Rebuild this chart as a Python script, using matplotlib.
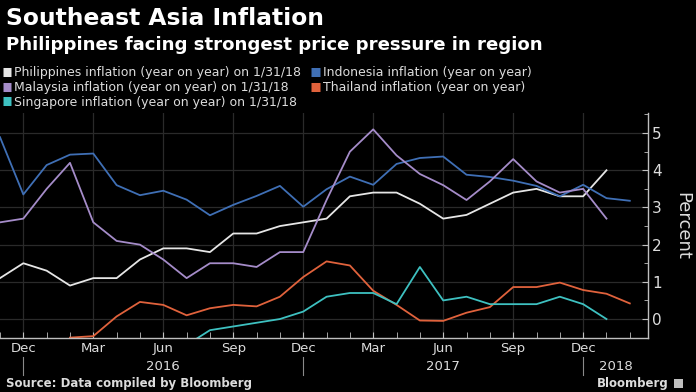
import matplotlib.pyplot as plt
import numpy as np

nan = np.nan

# monthly points, Nov 2015 .. Feb 2018
months = ['Nov', 'Dec', 'Jan', 'Feb', 'Mar', 'Apr', 'May', 'Jun', 'Jul', 'Aug', 'Sep', 'Oct',
          'Nov', 'Dec', 'Jan', 'Feb', 'Mar', 'Apr', 'May', 'Jun', 'Jul', 'Aug', 'Sep', 'Oct',
          'Nov', 'Dec', 'Jan', 'Feb']

philippines = [1.1, 1.5, 1.3, 0.9, 1.1, 1.1, 1.6, 1.9, 1.9, 1.8, 2.3, 2.3,
               2.5, 2.6, 2.7, 3.3, 3.4, 3.4, 3.1, 2.7, 2.8, 3.1, 3.4, 3.5,
               3.3, 3.3, 4.0, nan]
indonesia = [4.89, 3.35, 4.14, 4.42, 4.45, 3.60, 3.33, 3.45, 3.21, 2.79, 3.07, 3.31,
             3.58, 3.02, 3.49, 3.83, 3.61, 4.17, 4.33, 4.37, 3.88, 3.82, 3.72, 3.58,
             3.30, 3.61, 3.25, 3.18]
malaysia = [2.6, 2.7, 3.5, 4.2, 2.6, 2.1, 2.0, 1.6, 1.1, 1.5, 1.5, 1.4,
            1.8, 1.8, 3.2, 4.5, 5.1, 4.4, 3.9, 3.6, 3.2, 3.7, 4.3, 3.7,
            3.4, 3.5, 2.7, nan]
thailand = [nan, nan, nan, -0.50, -0.46, 0.07, 0.46, 0.38, 0.10, 0.29, 0.38, 0.34,
            0.60, 1.13, 1.55, 1.44, 0.76, 0.38, -0.04, -0.05, 0.17, 0.32, 0.86, 0.86,
            0.98, 0.78, 0.68, 0.42]
singapore = [nan, nan, nan, nan, nan, nan, nan, nan, -0.7, -0.3, -0.2, -0.1,
             0.0, 0.2, 0.6, 0.7, 0.7, 0.4, 1.4, 0.5, 0.6, 0.4, 0.4, 0.4,
             0.6, 0.4, 0.0, nan]

series = [
    ('Philippines inflation (year on year) on 1/31/18', philippines, '#e6e6e6'),
    ('Indonesia inflation (year on year)', indonesia, '#3f6fb5'),
    ('Malaysia inflation (year on year) on 1/31/18', malaysia, '#a58cc9'),
    ('Thailand inflation (year on year)', thailand, '#e0623c'),
    ('Singapore inflation (year on year) on 1/31/18', singapore, '#3ec1c1'),
]

years = ['2016', '2017', '2018']

fg = '#dcdcdc'
bg = 'black'

fig = plt.figure(figsize=(6.96, 3.92), dpi=100, facecolor=bg)
ax = fig.add_axes([0.0, 54 / 392, 648 / 696, 225 / 392], facecolor=bg)

x = np.arange(len(months))
handles = []
for name, vals, col in series:
    h, = ax.plot(x, vals, color=col, lw=1.3, label=name)
    handles.append(h)

ax.set_xlim(0, 27.78)
ax.set_ylim(-0.51, 5.54)

# axes styling
for s in ['top', 'left']:
    ax.spines[s].set_visible(False)
for s in ['right', 'bottom']:
    ax.spines[s].set_color('#bfbfbf')
    ax.spines[s].set_linewidth(1.0)

ax.yaxis.tick_right()
ax.set_yticks(range(0, 6))
ax.set_yticks(np.arange(0, 5.6, 0.5), minor=True)
ax.tick_params(axis='y', which='both', colors='#bfbfbf', labelcolor=fg,
               labelsize=11, direction='in', length=4, pad=3)
ax.tick_params(axis='y', which='minor', length=3)

tick_idx = [i for i, m in enumerate(months) if m in ('Dec', 'Mar', 'Jun', 'Sep')]
ax.set_xticks(tick_idx)
ax.set_xticklabels([months[i] for i in tick_idx])
ax.set_xticks(x, minor=True)
ax.tick_params(axis='x', which='both', colors='#bfbfbf', labelcolor=fg,
               labelsize=9.5, direction='in', length=4, pad=3)

ax.grid(True, which='major', color='#2a2a2a', lw=0.9)
ax.set_axisbelow(True)

ax.yaxis.set_label_position('right')
ax.set_ylabel('Percent', color=fg, fontsize=13, rotation=270, labelpad=21)

# year labels and separators
trans = ax.get_xaxis_transform()
dec_idx = [i for i, m in enumerate(months) if m == 'Dec']
bounds = dec_idx + [27.78]
for k, yr in enumerate(years):
    mid = (bounds[k] + bounds[k + 1]) / 2
    ax.text(mid, -0.125, yr, transform=trans, ha='center', va='center',
            color=fg, fontsize=9.5)
for d in dec_idx:
    ax.plot([d, d], [-0.085, -0.165], transform=trans, color='#8a8a8a',
            lw=0.8, clip_on=False)

# titles
fig.text(0.008, 0.953, 'Southeast Asia Inflation', color='white', fontsize=16.8,
         fontweight='bold', va='center')
fig.text(0.008, 0.885, 'Philippines facing strongest price pressure in region',
         color='white', fontsize=13.1, fontweight='bold', va='center')

order = [0, 2, 4, 1, 3]
leg = fig.legend(handles=[handles[i] for i in order],
                 loc='upper left', bbox_to_anchor=(0.0, 0.838), ncol=2,
                 frameon=False, fontsize=9, labelcolor=fg, handlelength=0.7,
                 handleheight=0.7, handletextpad=0.25, columnspacing=0.8,
                 labelspacing=0.15, borderaxespad=0, borderpad=0.2)
for h in leg.legend_handles:
    h.set_linewidth(6.5)
    h.set_solid_capstyle('butt')

fig.text(0.008, 0.022, 'Source: Data compiled by Bloomberg', color=fg,
         fontsize=8.5, fontweight='bold', va='center')
fig.text(0.96, 0.022, 'Bloomberg', color=fg, fontsize=8.5, fontweight='bold',
         va='center', ha='right')
fig.patches.append(plt.Rectangle((0.968, 0.01), 0.013, 0.024, transform=fig.transFigure,
                                 facecolor='#bfbfbf', edgecolor='none'))

fig.savefig('out.png', dpi=100, facecolor=bg)
